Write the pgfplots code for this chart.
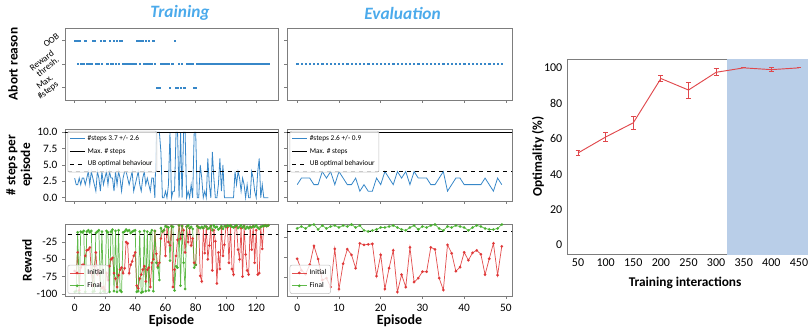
\documentclass[border=0pt]{standalone}
\usepackage{fontspec}
\setmainfont{Carlito}
\usepackage{pgfplots}
\usepackage{pgfplotstable}
\pgfplotsset{compat=1.18}
\definecolor{cblue}{RGB}{55,135,200}
\definecolor{cred}{RGB}{222,50,50}
\definecolor{cgreen}{RGB}{70,175,45}
\definecolor{ctitle}{RGB}{75,170,235}
\definecolor{cshade}{RGB}{185,206,232}
\definecolor{cframe}{RGB}{125,125,125}
\definecolor{cline}{RGB}{224,72,76}

\pgfplotstableread{
ep reason steps init final
0 2 3 -67 -97
1 2 2 -70 -96
2 1 2 -40 -11
3 2 3 -95 -98
4 1 2 -62 -10
5 1 3 -58 -11
6 1 3 -58 -9
7 2 2 -45 -97
8 1 3 -37 -10
9 1 4 -36 -8
10 1 2 -33 -11
11 1 4 -70 -9
12 2 3 -88 -97
13 2 2 -60 -96
14 1 1 -40 -12
15 1 4 -72 -10
16 1 3 -66 -8
17 2 1 -85 -98
18 1 4 -92 -10
19 2 2 -90 -96
20 2 3 -94 -97
21 1 4 -70 -9
22 1 2 -80 -11
23 2 4 -60 -97
24 1 3 -50 -10
25 1 3 -48 -7
26 2 1 -70 -96
27 1 4 -78 -9
28 2 2 -90 -97
29 1 4 -73 -8
30 2 3 -65 -95
31 2 1 -62 -97
32 1 3 -70 -11
33 1 4 -63 -10
34 1 4 -25 -7
35 1 3 -27 -9
36 1 2 -70 -8
37 1 3 -58 -12
38 1 4 -53 -10
39 1 1 -45 -9
40 1 2 -40 -8
41 2 3 -88 -97
42 2 4 -92 -96
43 1 2 -78 -10
44 2 1 -72 -98
45 2 3 -65 -97
46 1 4 -60 -9
47 2 2 -82 -96
48 1 3 -65 -10
49 2 2 -62 -95
50 1 1 -90 -12
51 1 3 -55 -8
52 2 3 -50 -96
53 1 0 -9 -9
54 0 10 -42 -55
55 0 10 -60 -62
56 0 10 -55 -80
57 1 7 -20 -5
58 1 0 -10 -10
59 1 0 -8 -8
60 1 1 -45 -2
61 1 0 -3 -3
62 1 2 -25 -4
63 0 10 -30 -52
64 1 0 -2 -2
65 1 1 -90 -3
66 2 1 -65 -95
67 0 10 -45 -60
68 0 10 -22 -62
69 1 0 -1 -1
70 0 10 -20 -88
71 1 0 -2 -2
72 0 10 -8 -55
73 0 10 -40 -93
74 1 0 -3 -3
75 1 1 -25 -1
76 1 0 -5 -5
77 1 2 -30 -3
78 1 0 -20 -6
79 0 10 -55 -62
80 0 10 -58 -58
81 1 0 -2 -2
82 1 0 -4 -4
83 1 5 -74 -5
84 1 3 -82 -3
85 1 0 -5 -5
86 1 1 -41 -2
87 1 0 -3 -3
88 1 6 -50 -6
89 1 2 -30 -5
90 1 0 -2 -2
91 1 7 -66 -8
92 1 3 -8 -1
93 1 0 -24 -4
94 1 0 -85 -3
95 1 2 -40 -7
96 1 6 -64 -5
97 1 1 -3 -2
98 1 5 -45 -6
99 1 0 -29 -2
100 1 0 -2 -3
101 1 0 -4 -1
102 1 0 -55 -2
103 1 0 -1 -1
104 1 0 -64 -3
105 1 0 -72 -4
106 1 4 -3 -2
107 1 2 -2 -1
108 1 4 -36 -5
109 1 3 -50 -3
110 1 1 -5 -1
111 1 3 -75 -4
112 1 2 -2 -2
113 1 0 -43 -6
114 1 2 -66 -3
115 1 0 -72 -5
116 1 0 -3 -3
117 1 4 -36 -4
118 1 3 -2 -2
119 1 1 -55 -3
120 1 0 -8 -1
121 1 4 -72 -4
122 1 6 -70 -6
123 1 0 -3 -3
124 1 2 -35 -2
125 1 0 -2 -2
126 1 0 -1 -1
127 1 0 -2 -2
128 1 0 -1 -1
}\train

\pgfplotstableread{
ep reason steps init final
0 1 2 -41.5 -11
1 1 3 -53 -9
2 1 3 -57 -11
3 1 3 -47.5 -8
4 1 2 -28.5 -7
5 1 2 -41.8 -12
6 1 4 -63 -8
7 1 3 -61 -11
8 1 4 -70 -9
9 1 2 -31.5 -8
10 1 4 -72 -10
11 1 3 -46.5 -8
12 1 2 -31.8 -9
13 1 2 -37.5 -7
14 1 3 -51 -10
15 1 1 -26 -8
16 1 2 -27.5 -13
17 1 1 -27 -14
18 1 1 -26.5 -13
19 1 3 -59 -12
20 1 2 -37.5 -10
21 1 4 -72 -10
22 1 3 -51 -9
23 1 2 -33 -8
24 1 4 -75 -10
25 1 3 -57.5 -12
26 1 4 -70 -13
27 1 2 -30 -10
28 1 4 -65 -8
29 1 3 -61 -12
30 1 3 -54.5 -9
31 1 3 -54.5 -10
32 1 2 -30 -8
33 1 2 -32 -7
34 1 3 -61 -11
35 1 4 -73 -13
36 1 1 -27.5 -9
37 1 2 -36 -10
38 1 3 -54 -8
39 1 3 -50 -9
40 1 2 -35 -10
41 1 2 -43 -13
42 1 2 -35.5 -10
43 1 2 -33 -8
44 1 2 -37 -9
45 1 3 -57.5 -11
46 1 2 -41.5 -12
47 1 1 -26 -12
48 1 3 -58 -11
49 1 2 -29 -7
}\evalt

\pgfplotstableread{
x y e
50 52 1.5
100 61 2.6
150 69 3.5
200 94 1.5
250 87.5 4.5
300 97.5 2
350 100 0
400 99 1
450 100 0
}\opt

\pgfplotsset{
 base/.style={scale only axis, anchor=south west,
   axis line style={cframe, line width=0.6pt},
   tick style={cframe, line width=0.5pt}, tick align=outside,
   major tick length=2.2pt, tick pos=left,
   /pgf/number format/assume math mode=true,
   ticklabel style={font=\fontsize{8.5}{9.5}\selectfont},
   ylabel style={font=\bfseries\fontsize{10}{11}\selectfont, align=center},
   xlabel style={font=\bfseries\fontsize{10.5}{11}\selectfont}},
 trainx/.style={xmin=-6.4, xmax=134.4, xtick={0,20,...,120}},
 evalx/.style={xmin=-2.45, xmax=51.45, xtick={0,10,...,50}},
 topy/.style={ymin=-0.53, ymax=2.53, ytick={0,1,2}},
 midy/.style={ymin=-0.5, ymax=10.5, ytick={0,2.5,5,7.5,10}},
 leg/.style={legend cell align=left,
   legend style={font=\fontsize{5.5}{6.5}\selectfont, draw=black!25, fill=white,
     fill opacity=0.8, text opacity=1, rounded corners=1.5pt, inner sep=1.2pt,
     row sep=0.3pt}},
}

\begin{document}
\begin{tikzpicture}
\useasboundingbox (0,0) rectangle (606pt,244.5pt);

\node[font=\bfseries\itshape\fontsize{13}{15}\selectfont, text=ctitle] at (135pt,234.5pt) {Training};
\node[font=\bfseries\itshape\fontsize{13}{15}\selectfont, text=ctitle] at (301.9pt,234.5pt) {Evaluation};

% ---- Training top
\begin{axis}[base, trainx, topy, at={(48.75pt,169.5pt)}, width=159.75pt, height=54pt,
  xticklabel=\empty,
  yticklabels={{Max.\\\#steps},{Reward\\thresh.},OOB},
  yticklabel style={rotate=38, align=right, font=\fontsize{6.8}{6.4}\selectfont, inner sep=1pt},
  ylabel={Abort reason},
  ylabel style={at={(axis description cs:-0.244,0.5)}, anchor=center}]
\addplot[only marks, mark=square*, mark size=0.45pt, cblue, mark options={draw=none, fill=cblue}] table[x=ep, y=reason] {\train};
\end{axis}

% ---- Eval top
\begin{axis}[base, evalx, topy, at={(215.25pt,169.5pt)}, width=168.75pt, height=54pt,
  xticklabel=\empty, yticklabel=\empty]
\addplot[only marks, mark=square*, mark size=0.45pt, cblue, mark options={draw=none, fill=cblue}] table[x=ep, y=reason] {\evalt};
\end{axis}

% ---- Training middle
\begin{axis}[base, trainx, midy, leg, at={(48.75pt,93.75pt)}, width=159.75pt, height=54pt,
  xticklabel=\empty,
  yticklabel style={/pgf/number format/.cd, fixed, fixed zerofill, precision=1},
  ylabel={\# steps per\\episode},
  ylabel style={at={(axis description cs:-0.215,0.5)}, anchor=center},
  legend style={at={(0.012,0.975)}, anchor=north west},
  legend image code/.code={\draw[#1] (0pt,0pt) -- (11pt,0pt);}]
\addplot[cblue, line width=0.6pt] table[x=ep, y=steps] {\train};
\addlegendentry{\#steps 3.7 +/- 2.6}
\addplot[black, line width=0.7pt] coordinates {(-10,10) (140,10)};
\addlegendentry{Max. \# steps}
\addplot[black, dashed, line width=0.6pt] coordinates {(-10,4) (140,4)};
\addlegendentry{UB optimal behaviour}
\end{axis}

% ---- Eval middle
\begin{axis}[base, evalx, midy, leg, at={(215.25pt,93.75pt)}, width=168.75pt, height=54pt,
  xticklabel=\empty, yticklabel=\empty,
  legend style={at={(0.012,0.975)}, anchor=north west},
  legend image code/.code={\draw[#1] (0pt,0pt) -- (11pt,0pt);}]
\addplot[cblue, line width=0.6pt] table[x=ep, y=steps] {\evalt};
\addlegendentry{\#steps 2.6 +/- 0.9}
\addplot[black, line width=0.7pt] coordinates {(-10,10) (60,10)};
\addlegendentry{Max. \# steps}
\addplot[black, dashed, line width=0.6pt] coordinates {(-10,4) (60,4)};
\addlegendentry{UB optimal behaviour}
\end{axis}

% ---- Training bottom
\begin{axis}[base, trainx, leg, at={(48.75pt,22.5pt)}, width=159.75pt, height=54pt,
  ymin=-103, ymax=1, ytick={-100,-75,-50,-25},
  ylabel={Reward},
  ylabel style={at={(axis description cs:-0.178,0.5)}, anchor=center},
  xlabel={Episode},
  xlabel style={at={(axis description cs:0.5,-0.34)}, anchor=center},
  legend style={at={(0.012,0.03)}, anchor=south west},
  legend image code/.code={\draw[mark repeat=2, mark phase=2, #1] plot coordinates {(0pt,0pt) (5.5pt,0pt) (11pt,0pt)};}]
\addplot[cred, opacity=0.85, line width=0.55pt, mark=*, mark size=0.75pt] table[x=ep, y=init] {\train};
\addlegendentry{Initial}
\addplot[cgreen, opacity=0.85, line width=0.55pt, mark=*, mark size=0.75pt] table[x=ep, y=final] {\train};
\addlegendentry{Final}
\addplot[black, dashed, line width=0.6pt, forget plot] coordinates {(-10,-13.5) (140,-13.5)};
\end{axis}

% ---- Eval bottom
\begin{axis}[base, evalx, leg, at={(215.25pt,22.5pt)}, width=168.75pt, height=54pt,
  ymin=-79, ymax=-6.5, ytick={-60,-40,-20}, yticklabel=\empty,
  xlabel={Episode},
  xlabel style={at={(axis description cs:0.5,-0.34)}, anchor=center},
  legend style={at={(0.012,0.03)}, anchor=south west},
  legend image code/.code={\draw[mark repeat=2, mark phase=2, #1] plot coordinates {(0pt,0pt) (5.5pt,0pt) (11pt,0pt)};}]
\addplot[cred, opacity=0.85, line width=0.55pt, mark=*, mark size=0.75pt] table[x=ep, y=init] {\evalt};
\addlegendentry{Initial}
\addplot[cgreen, opacity=0.85, line width=0.55pt, mark=*, mark size=0.75pt] table[x=ep, y=final] {\evalt};
\addlegendentry{Final}
\addplot[black, dashed, line width=0.6pt, forget plot] coordinates {(-10,-13.5) (60,-13.5)};
\end{axis}

% ---- Right panel
\begin{axis}[scale only axis, anchor=south west, at={(425.25pt,54pt)}, width=182.25pt, height=146.25pt,
  xmin=30, xmax=470, ymin=-5, ymax=105,
  xtick={50,100,...,450}, ytick={0,20,...,100},
  major tick length=0pt, axis line style={cframe, line width=0.6pt},
  /pgf/number format/assume math mode=true,
  ticklabel style={font=\fontsize{9}{10}\selectfont},
  xlabel={Training interactions}, ylabel={Optimality (\%)},
  xlabel style={font=\bfseries\fontsize{10}{11}\selectfont, at={(axis description cs:0.486,-0.15)}, anchor=center},
  ylabel style={font=\bfseries\fontsize{10}{11}\selectfont, at={(axis description cs:-0.119,0.5)}, anchor=center}]
\addplot[fill=cshade, draw=none] coordinates {(320,-10) (480,-10) (480,110) (320,110)} --cycle;
\addplot[cline, line width=0.7pt, mark=none,
  error bars/.cd, y dir=both, y explicit,
  error bar style={line width=0.7pt},
  error mark options={cline, rotate=90, mark size=1.8pt, line width=0.7pt}]
  table[x=x, y=y, y error=e] {\opt};
\end{axis}
\end{tikzpicture}
\end{document}
